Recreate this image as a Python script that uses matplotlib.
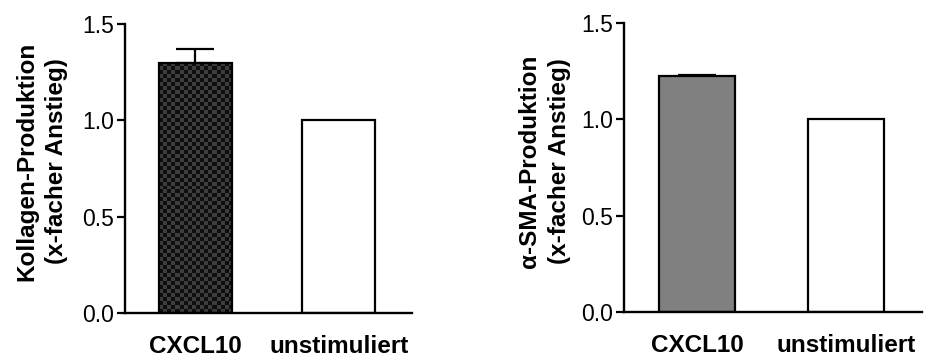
import matplotlib.pyplot as plt
import numpy as np
from matplotlib.colors import ListedColormap

plt.rcParams["font.family"] = ["Liberation Sans", "DejaVu Sans"]

categories = ["CXCL10", "unstimuliert"]
kollagen_values = [1.30, 1.00]
kollagen_errors = [0.068, 0.0]
sma_values = [1.222, 1.00]
sma_errors = [0.006, 0.0]
y_ticks = [0.0, 0.5, 1.0, 1.5]
y_ticklabels = ["0.0", "0.5", "1.0", "1.5"]

fig = plt.figure(figsize=(9.25, 3.59), dpi=100)

# axes rectangles in figure fractions
ax_left = fig.add_axes([0.1351, 0.1281, 0.3103, 0.8050])
ax_right = fig.add_axes([0.6746, 0.1309, 0.3222, 0.8059])


def checker_fill(ax, bar, cell_px=4.0):
    # dark checkerboard pattern clipped to the bar rectangle
    x0, y0 = bar.get_x(), bar.get_y()
    x1, y1 = x0 + bar.get_width(), y0 + bar.get_height()
    p0 = ax.transData.transform((x0, y0))
    p1 = ax.transData.transform((x1, y1))
    nx = max(1, int(round(abs(p1[0] - p0[0]) / cell_px)))
    ny = max(1, int(round(abs(p1[1] - p0[1]) / cell_px)))
    board = np.add.outer(np.arange(ny), np.arange(nx)) % 2
    img = ax.imshow(board, extent=[x0, x1, y0, y1], origin="lower",
                    cmap=ListedColormap(["#0e0e0e", "#3d3d3d"]),
                    interpolation="nearest", aspect="auto", zorder=2.5)
    img.set_clip_path(bar)


def draw_panel(ax, values, errors, first_color, ylabel, label_x, label_y,
               checker=False):
    x = np.arange(len(categories))
    ax.set_xlim(-0.49, 1.51)
    ax.set_ylim(0, 1.5)
    colors = [first_color, "white"]
    bars = ax.bar(x, values, width=0.51, color=colors, edgecolor="none",
                  zorder=2)
    if checker:
        checker_fill(ax, bars[0])
    ax.bar(x, values, width=0.51, fill=False, edgecolor="black",
           linewidth=1.6, zorder=3)

    # upper error bars only, and only where there is an error
    vals = np.array(values)
    errs = np.array(errors)
    has_err = errs > 0
    ax.errorbar(x[has_err], vals[has_err],
                yerr=[np.zeros(has_err.sum()), errs[has_err]], fmt="none",
                ecolor="black", elinewidth=1.6, capsize=13.5, capthick=1.6,
                zorder=1)
    ax.set_xlim(-0.49, 1.51)
    ax.set_ylim(0, 1.5)

    for side in ["top", "right"]:
        ax.spines[side].set_visible(False)
    for side in ["left", "bottom"]:
        ax.spines[side].set_linewidth(1.7)

    ax.set_yticks(y_ticks)
    ax.set_yticklabels(y_ticklabels)
    ax.tick_params(axis="y", length=5.5, width=1.6, pad=2.5, labelsize=16.5,
                   colors="black")
    ax.set_xticks(x)
    ax.set_xticklabels(categories, fontweight="bold", fontsize=17.5)
    ax.tick_params(axis="x", length=0, pad=16)

    fig.text(label_x / 925, 1 - label_y / 359, ylabel, rotation=90,
             ha="center", va="center", multialignment="center",
             fontsize=17.5, fontweight="bold", linespacing=1.38)


draw_panel(ax_left, kollagen_values, kollagen_errors, "#0e0e0e",
           "Kollagen-Produktion\n(x-facher Anstieg)", 41.5, 161, checker=True)
draw_panel(ax_right, sma_values, sma_errors, "#808080",
           "α-SMA-Produktion\n(x-facher Anstieg)", 544.5, 161)

fig.savefig("out.png", dpi=100)
